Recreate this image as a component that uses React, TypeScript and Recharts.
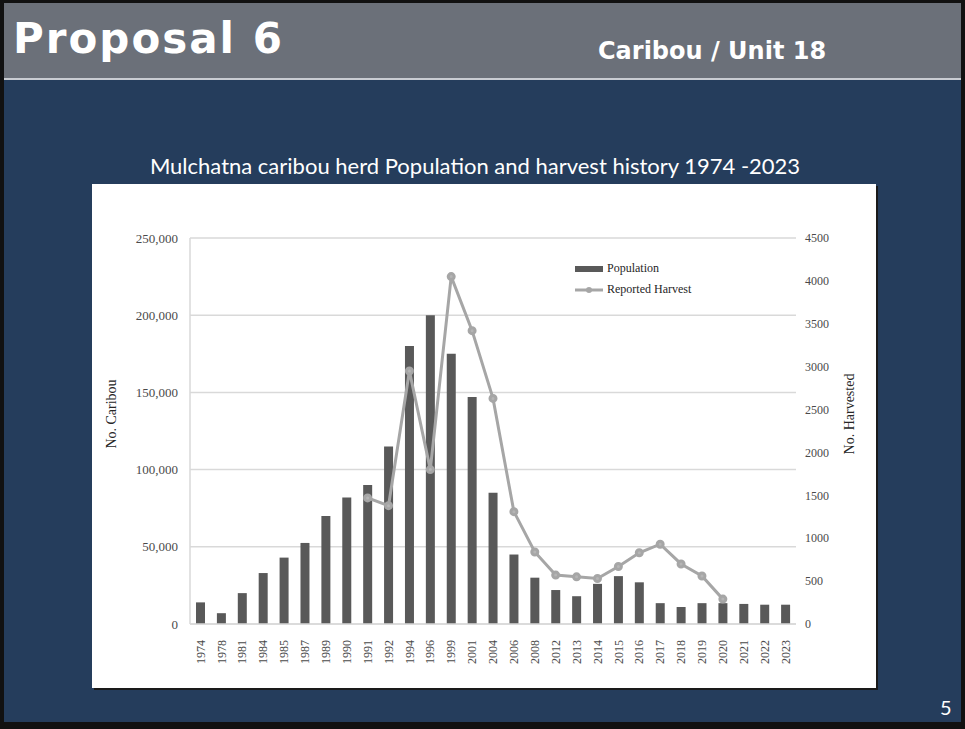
import {
  ComposedChart,
  Bar,
  Line,
  XAxis,
  YAxis,
  CartesianGrid,
  Legend,
} from "recharts";

const YEARS = [
  "1974", "1978", "1981", "1984", "1985", "1987", "1989", "1990", "1991", "1992",
  "1994", "1996", "1999", "2001", "2004", "2006", "2008", "2012", "2013", "2014",
  "2015", "2016", "2017", "2018", "2019", "2020", "2021", "2022", "2023",
];

const POPULATION = [
  14000, 7000, 20000, 33000, 43000, 52500, 70000, 82000, 90000, 115000,
  180000, 200000, 175000, 147000, 85000, 45000, 30000, 22000, 18000, 26000,
  31000, 27000, 13500, 11000, 13500, 13500, 13000, 12500, 12500,
];

const HARVEST: (number | null)[] = [
  null, null, null, null, null, null, null, null, 1470, 1380,
  2950, 1800, 4050, 3420, 2630, 1310, 840, 570, 550, 530,
  670, 830, 930, 700, 560, 290, null, null, null,
];

const LEFT_TICKS = [0, 50000, 100000, 150000, 200000, 250000];
const RIGHT_TICKS = [0, 500, 1000, 1500, 2000, 2500, 3000, 3500, 4000, 4500];

const data = YEARS.map((year, i) => ({
  year,
  population: POPULATION[i],
  harvest: HARVEST[i],
}));

const SERIF = "'Liberation Serif', 'Times New Roman', serif";
const SANS = "Lato, 'Open Sans', sans-serif";
const HEAD = "'DejaVu Sans', Lato, sans-serif";
const BAR_COLOR = "#595959";
const LINE_COLOR = "#a6a6a6";
const TICK_COLOR = "#4a4a4a";

function YearTick({ x, y, payload }: any) {
  return (
    <text
      x={x}
      y={y + 8}
      dy="0.35em"
      textAnchor="end"
      transform={`rotate(-90, ${x}, ${y + 8})`}
      fontFamily={SERIF}
      fontSize={12}
      fill={TICK_COLOR}
    >
      {payload.value}
    </text>
  );
}

function ChartLegend() {
  return (
    <div style={{ fontFamily: SERIF, fontSize: 12, color: "#262626", lineHeight: "21px" }}>
      <div style={{ display: "flex", alignItems: "center" }}>
        <svg width={30} height={10}>
          <rect x={0} y={2} width={28} height={6} fill={BAR_COLOR} />
        </svg>
        <span style={{ marginLeft: 2 }}>Population</span>
      </div>
      <div style={{ display: "flex", alignItems: "center" }}>
        <svg width={30} height={10}>
          <line x1={0} y1={5} x2={28} y2={5} stroke={LINE_COLOR} strokeWidth={3} />
          <circle cx={14} cy={5} r={3} fill={LINE_COLOR} />
        </svg>
        <span style={{ marginLeft: 2 }}>Reported Harvest</span>
      </div>
    </div>
  );
}

export default function App() {
  return (
    <div
      style={{
        position: "fixed",
        left: 0,
        top: 0,
        width: 965,
        height: 729,
        background: "#111",
        overflow: "hidden",
      }}
    >
      <div
        style={{
          position: "absolute",
          left: 4,
          top: 3,
          width: 957,
          height: 719,
          background: "#253d5c",
        }}
      >
        <div
          style={{
            position: "absolute",
            left: 0,
            top: 0,
            width: 957,
            height: 75,
            background: "#6b7079",
            borderBottom: "2px solid #c9ccd2",
          }}
        />
        <div
          style={{
            position: "absolute",
            left: 9,
            top: 11,
            color: "#fff",
            fontFamily: HEAD,
            fontWeight: 700,
            fontSize: 42,
            letterSpacing: 2,
            lineHeight: "normal",
          }}
        >
          Proposal 6
        </div>
        <div
          style={{
            position: "absolute",
            left: 594,
            top: 34,
            color: "#fff",
            fontFamily: HEAD,
            fontWeight: 700,
            fontSize: 24,
          }}
        >
          Caribou / Unit 18
        </div>
        <div
          style={{
            position: "absolute",
            left: 0,
            width: 942,
            top: 149,
            textAlign: "center",
            color: "#fff",
            fontFamily: SANS,
            fontSize: 22,
          }}
        >
          Mulchatna caribou herd Population and harvest history 1974 -2023
        </div>
        <div
          style={{
            position: "absolute",
            left: 936,
            top: 692,
            color: "#fff",
            fontFamily: SANS,
            fontSize: 20,
          }}
        >
          5
        </div>
      </div>

      <div
        style={{
          position: "absolute",
          left: 92,
          top: 184,
          width: 784,
          height: 504,
          background: "#fff",
          boxShadow: "2px 2px 0 #1a1a1a",
        }}
      >
        <ComposedChart
          width={784}
          height={504}
          data={data}
          margin={{ top: 54, right: 30, bottom: 19, left: 38 }}
        >
          <CartesianGrid yAxisId="left" vertical={false} stroke="#d9d9d9" strokeWidth={1.5} />
          <XAxis
            dataKey="year"
            interval={0}
            tickLine={false}
            axisLine={{ stroke: "#d9d9d9", strokeWidth: 1.5 }}
            height={45}
            tick={<YearTick />}
          />
          <YAxis
            yAxisId="left"
            domain={[0, 250000]}
            ticks={LEFT_TICKS}
            width={60}
            tickLine={false}
            tickMargin={6}
            axisLine={{ stroke: "#d9d9d9", strokeWidth: 1.5 }}
            tickFormatter={(v: number) => v.toLocaleString("en-US")}
            tick={{ fontFamily: SERIF, fontSize: 13, fill: TICK_COLOR }}
          />
          <YAxis
            yAxisId="right"
            orientation="right"
            domain={[0, 4500]}
            ticks={RIGHT_TICKS}
            width={50}
            tickLine={false}
            tickMargin={3}
            axisLine={false}
            tick={{ fontFamily: SERIF, fontSize: 12, fill: TICK_COLOR, textAnchor: "start" }}
          />
          <Legend
            layout="vertical"
            align="center"
            verticalAlign="middle"
            content={<ChartLegend />}
            wrapperStyle={{ left: 483, top: 74, width: 160 }}
          />
          <Bar
            yAxisId="left"
            dataKey="population"
            name="Population"
            fill={BAR_COLOR}
            barSize={9}
            isAnimationActive={false}
          />
          <Line
            yAxisId="right"
            dataKey="harvest"
            name="Reported Harvest"
            stroke={LINE_COLOR}
            strokeWidth={3}
            dot={{ r: 3, fill: "#b5b5b5", stroke: LINE_COLOR }}
            activeDot={false}
            connectNulls={false}
            isAnimationActive={false}
          />
        </ComposedChart>
        <div
          style={{
            position: "absolute",
            left: 20 - 50,
            top: 222,
            width: 100,
            textAlign: "center",
            transform: "rotate(-90deg)",
            fontFamily: SERIF,
            fontSize: 14,
            color: "#262626",
          }}
        >
          No. Caribou
        </div>
        <div
          style={{
            position: "absolute",
            left: 758 - 50,
            top: 222,
            width: 100,
            textAlign: "center",
            transform: "rotate(-90deg)",
            fontFamily: SERIF,
            fontSize: 14,
            color: "#262626",
          }}
        >
          No. Harvested
        </div>
      </div>
    </div>
  );
}
